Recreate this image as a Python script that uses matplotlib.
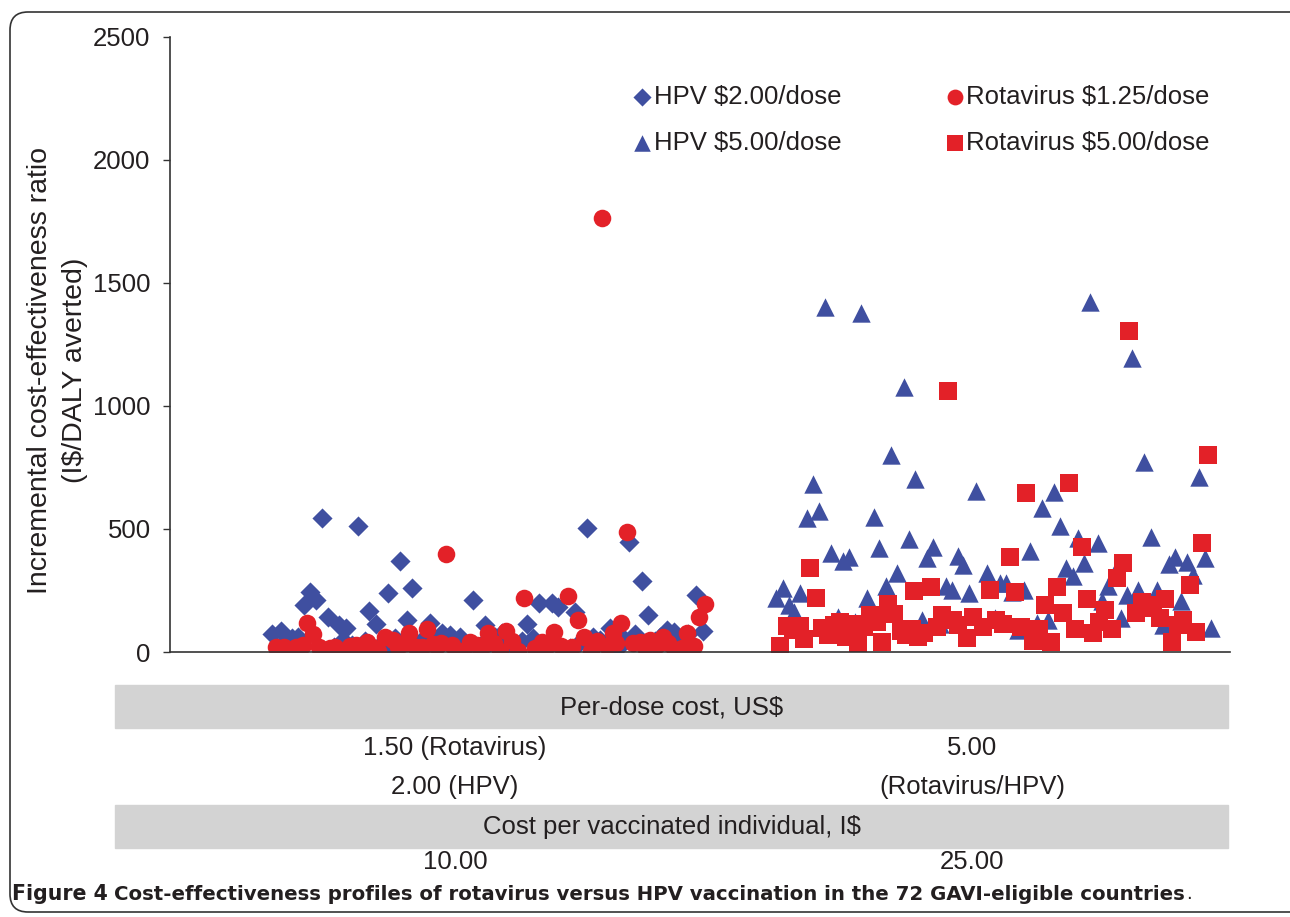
import matplotlib
matplotlib.use("Agg")
import matplotlib.pyplot as plt
from matplotlib.patches import FancyBboxPatch, Rectangle
from matplotlib.transforms import IdentityTransform

# positions along the x axis (0-100) and ICER values
hpv2_x = [9.6, 10.5, 11.5, 12.1, 12.6, 13.2, 13.8, 14.3, 14.9, 15.9, 16.6, 17.7, 18.8, 19.4,
          20.6, 21.7, 22.4, 22.8, 24.5, 25.7, 26.4, 27.4, 28.6, 29.7, 30.7, 31.3, 33.2, 33.7,
          34.8, 36.0, 36.6, 37.1, 37.7, 38.2, 39.3, 39.9, 40.6, 41.5, 42.3, 43.3, 43.9, 44.5,
          45.1, 46.9, 47.5, 48.9, 49.6, 50.3, 10.8, 15.5, 17.2, 18.4, 20.0, 21.2, 23.6, 25.1,
          26.9, 29.2, 32.1, 35.4, 38.7, 41.0, 42.7, 45.8, 48.1, 12.3, 16.3, 20.8, 24.3, 30.2,
          34.2, 46.2]
hpv2_y = [73, 85, 57, 61, 191, 244, 211, 545, 142, 110, 98, 512, 167, 114,
          240, 370, 130, 260, 118, 77, 69, 61, 211, 110, 61, 77, 45, 114,
          199, 199, 183, 16, 16, 163, 504, 61, 49, 98, 16, 447, 73, 289,
          150, 89, 81, 73, 232, 85, 40, 20, 30, 45, 35, 55, 40, 30,
          45, 25, 35, 30, 40, 30, 55, 45, 35, 30, 50, 25, 60, 40,
          55, 60]

rota125_x = [10.0, 10.8, 11.9, 12.9, 13.5, 14.1, 14.6, 15.6, 16.3, 17.0, 18.0, 18.6, 19.6, 20.3,
             21.0, 21.5, 22.5, 23.2, 23.8, 24.2, 24.8, 25.6, 26.0, 26.6, 27.2, 27.6, 28.3, 29.0,
             29.4, 30.0, 31.1, 31.7, 32.3, 32.8, 33.4, 35.1, 36.2, 36.9, 37.5, 38.5, 39.1, 39.7,
             40.8, 41.8, 42.5, 43.1, 43.7, 44.3, 45.3, 45.9, 46.5, 47.6, 48.3, 48.8, 49.9, 50.5,
             12.5, 15.1, 17.5, 19.1, 22.3, 25.2, 30.6, 35.7, 40.3, 44.8, 47.0, 34.4, 37.9, 41.2,
             42.1, 49.4]
rota125_y = [20, 20, 20, 118, 73, 20, 5, 20, 5, 25, 25, 40, 5, 61,
             49, 20, 77, 20, 20, 94, 32, 36, 398, 28, 5, 5, 40, 30,
             20, 77, 4, 85, 45, 4, 219, 41, 81, 24, 228, 130, 61, 4,
             1764, 77, 118, 488, 37, 41, 49, 30, 61, 2, 16, 77, 142, 195,
             30, 15, 30, 20, 35, 25, 35, 30, 45, 20, 35, 15, 20, 25,
             35, 25]

hpv5_x = [57.2, 57.8, 58.4, 58.9, 59.4, 60.1, 60.7, 61.2, 61.8, 62.4, 63.0, 63.5, 64.1, 65.2,
          65.8, 66.4, 66.9, 67.5, 68.0, 68.6, 69.2, 69.7, 70.3, 70.9, 71.4, 72.0, 73.2, 73.8,
          74.3, 74.8, 75.4, 76.0, 77.1, 77.8, 78.3, 78.9, 79.4, 80.0, 80.6, 81.1, 81.8, 82.3,
          82.8, 83.4, 84.0, 84.5, 85.2, 85.7, 86.2, 86.8, 87.5, 87.9, 88.5, 89.2, 89.7, 90.3,
          90.8, 91.3, 91.9, 92.5, 93.1, 93.7, 94.2, 94.8, 95.4, 95.9, 96.5, 97.1, 97.6, 98.2,
          64.6, 72.6]
hpv5_y = [220, 260, 191, 163, 240, 545, 683, 573, 1402, 402, 142, 370, 386, 1378,
          220, 549, 423, 268, 801, 321, 1077, 459, 703, 130, 382, 427, 268, 252,
          390, 354, 240, 654, 321, 138, 280, 280, 244, 89, 252, 411, 118, 585,
          130, 650, 512, 341, 309, 463, 362, 1423, 443, 207, 268, 333, 138, 232,
          1195, 252, 772, 467, 252, 110, 358, 386, 207, 366, 313, 711, 382, 98,
          120, 115]

rota5_x = [57.5, 58.2, 59.4, 59.8, 60.4, 60.9, 61.5, 62.1, 63.2, 63.8, 64.4, 64.9, 65.5, 66.0,
           66.7, 67.2, 67.7, 68.3, 69.0, 70.0, 70.2, 71.1, 71.8, 72.4, 72.8, 73.4, 74.3, 75.2,
           75.8, 76.7, 77.4, 78.6, 79.2, 79.7, 80.3, 80.8, 81.4, 82.0, 82.5, 83.1, 83.7, 84.2,
           84.8, 85.4, 86.0, 86.5, 87.1, 87.6, 89.3, 89.9, 90.5, 91.1, 91.7, 92.7, 93.4, 93.9,
           94.5, 95.1, 95.6, 96.2, 96.8, 97.4, 97.9, 58.8, 62.6, 69.4, 73.9, 77.9, 88.2, 92.2,
           88.9, 70.6]
rota5_y = [24, 106, 106, 53, 341, 220, 98, 69, 122, 61, 114, 37, 102, 150,
           122, 41, 195, 154, 85, 94, 248, 77, 264, 102, 150, 1061, 110, 57,
           142, 102, 252, 114, 386, 244, 102, 646, 45, 94, 191, 41, 264, 158,
           687, 94, 427, 215, 77, 122, 301, 362, 1305, 158, 203, 191, 138, 215,
           41, 110, 130, 272, 81, 443, 801, 90, 110, 70, 130, 130, 170, 180,
           95, 60]

y_ticks = [0, 500, 1000, 1500, 2000, 2500]

BLUE = "#3F4FA0"
RED = "#E32128"
TXT = "#231F20"
GREY = "#D3D3D3"
FS = 18.5

plt.rcParams["font.family"] = ["Liberation Sans", "DejaVu Sans"]

W, H = 1290, 917
fig = plt.figure(figsize=(W / 100, H / 100), dpi=100)


def fx(px):
    return px / W


def fy(py):
    return 1 - py / H


ax = fig.add_axes([fx(170), fy(652), (1230 - 170) / W, (652 - 37) / H])

h2 = ax.scatter(hpv2_x, hpv2_y, marker="D", s=105, color=BLUE, linewidths=0, label="HPV $2.00/dose")
h5 = ax.scatter(hpv5_x, hpv5_y, marker="^", s=175, color=BLUE, linewidths=0, label="HPV $5.00/dose")
r1 = ax.scatter(rota125_x, rota125_y, marker="o", s=160, color=RED, linewidths=0,
                label="Rotavirus $1.25/dose")
r5 = ax.scatter(rota5_x, rota5_y, marker="s", s=150, color=RED, linewidths=0,
                label="Rotavirus $5.00/dose")

ax.set_xlim(0, 100)
ax.set_ylim(0, 2500)
ax.set_yticks(y_ticks)
ax.set_xticks([])
ax.tick_params(axis="y", direction="out", length=5, width=1, pad=9, labelsize=18.5,
               color="#333333", labelcolor=TXT)
for s in ["top", "right"]:
    ax.spines[s].set_visible(False)
for s in ["left", "bottom"]:
    ax.spines[s].set_color("#333333")
    ax.spines[s].set_linewidth(1.2)

ax.legend(handles=[h2, h5, r1, r5], ncol=2, loc="upper left", bbox_to_anchor=(0.436, 0.922),
          frameon=False, fontsize=FS, handletextpad=0.05, handlelength=0.8,
          columnspacing=4.0, labelspacing=0.85, borderaxespad=0, borderpad=0,
          markerscale=0.9, labelcolor=TXT)

# y label (two lines)
fig.text(fx(58), fy(370), "Incremental cost-effectiveness ratio\n(I$/DALY averted)",
         rotation=90, ha="center", va="center", fontsize=20.5, color=TXT, linespacing=1.45)

# grey bands and labels under the plot
for top, bot in [(685, 728), (805, 848)]:
    fig.patches.append(Rectangle((fx(115), fy(bot)), (1228 - 115) / W, (bot - top) / H,
                                 transform=fig.transFigure, color=GREY, zorder=0))

fig.text(fx(672), fy(708), "Per-dose cost, US$", ha="center", va="center", fontsize=FS, color=TXT)
fig.text(fx(455), fy(748), "1.50 (Rotavirus)", ha="center", va="center", fontsize=FS, color=TXT)
fig.text(fx(455), fy(787), "2.00 (HPV)", ha="center", va="center", fontsize=FS, color=TXT)
fig.text(fx(972), fy(748), "5.00", ha="center", va="center", fontsize=FS, color=TXT)
fig.text(fx(972), fy(787), "(Rotavirus/HPV)", ha="center", va="center", fontsize=FS, color=TXT)
fig.text(fx(672), fy(827), "Cost per vaccinated individual, I$", ha="center", va="center",
         fontsize=FS, color=TXT)
fig.text(fx(455), fy(862), "10.00", ha="center", va="center", fontsize=FS, color=TXT)
fig.text(fx(972), fy(862), "25.00", ha="center", va="center", fontsize=FS, color=TXT)

# rounded frame
frame = FancyBboxPatch((10, H - 912), 1300, 900, boxstyle="round,pad=0,rounding_size=18",
                       transform=IdentityTransform(), facecolor="none", edgecolor="#333333",
                       linewidth=1.2)
fig.patches.append(frame)

# caption: bold "Figure 4" followed by the bold title and a plain full stop
cap_font = ["DejaVu Sans"]
cap_fs = 14.8
t1 = fig.text(fx(12), fy(894), "Figure 4", ha="left", va="center", fontsize=cap_fs,
              fontweight="bold", color=TXT, family=cap_font)
fig.canvas.draw()
bb = t1.get_window_extent()
t2 = fig.text((bb.x1 + 6) / W, fy(894),
              "Cost-effectiveness profiles of rotavirus versus HPV vaccination in the 72 GAVI-eligible countries",
              ha="left", va="center", fontsize=cap_fs - 0.6, fontweight="bold", color=TXT,
              family=cap_font)
fig.canvas.draw()
bb2 = t2.get_window_extent()
fig.text((bb2.x1 + 1) / W, fy(894), ".", ha="left", va="center", fontsize=cap_fs - 2,
         color=TXT, family=cap_font)

fig.savefig("out.png", dpi=100)
